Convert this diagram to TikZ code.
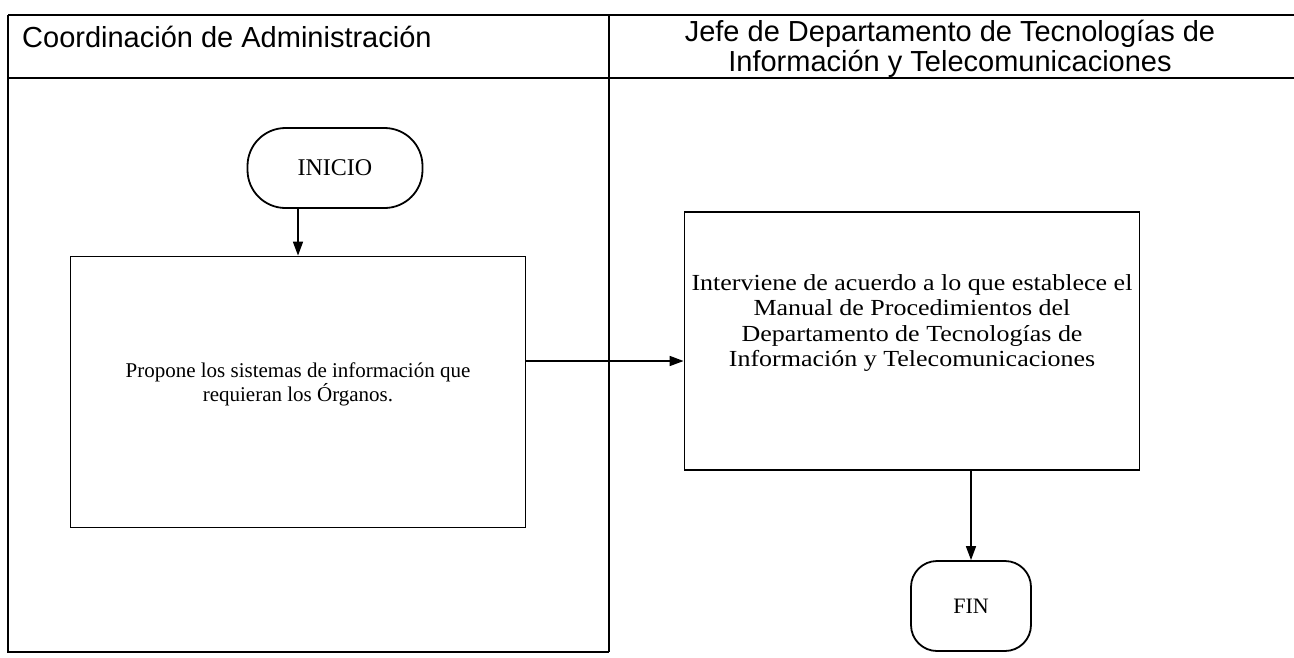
\documentclass[tikz,border=0pt]{standalone}
\usepackage{fontspec}
\setmainfont{Liberation Serif}
\newfontfamily\headfont{Liberation Sans}
\newfontfamily\widefont[FakeStretch=1.13]{Liberation Serif}
\usetikzlibrary{arrows.meta}
\begin{document}
\begin{tikzpicture}[x=1pt, y=-1pt,
  lane/.style={line width=1.3pt},
  proc/.style={draw, line width=1.8pt, minimum width=455pt, align=center, inner sep=0pt},
  term/.style={draw, line width=1.8pt, align=center, inner sep=0pt},
  head/.style={font=\headfont\fontsize{29}{30}\selectfont, inner sep=0pt},
  flecha/.style={line width=1.6pt, -{Triangle[length=14pt, width=10pt]}}
]
\useasboundingbox (0,0) rectangle (1294,657);

% encabezados y carriles
\draw[lane] (8,15) -- (1294,15);
\draw[lane] (8,78) -- (1294,78);
\draw[lane] (8,15) -- (8,652) -- (609,652);
\draw[lane] (609,15) -- (609,652);
\node[head, anchor=west] (hadm) at (22,37) {Coordinación de Administración};
\node[head, align=center, anchor=north] (hjefe) at (950,20) {Jefe de Departamento de Tecnologías de\\Información y Telecomunicaciones};

% nodos
\node[term, minimum width=175pt, minimum height=80pt, rounded corners=38pt,
      font=\fontsize{24}{28}\selectfont] (inicio) at (335,168) {INICIO};
\node[proc, minimum height=271pt] (propone) at (298,392) {};
\node[align=center, font=\fontsize{21}{24}\selectfont] (tpropone) at (298,384)
  {Propone los sistemas de información que\\requieran los Órganos.};
\node[proc, minimum height=258pt] (interv) at (912,341) {};
\node[align=center, font=\widefont\fontsize{23}{25.5}\selectfont] (tinterv) at (912,323)
  {Interviene de acuerdo a lo que establece el\\Manual de Procedimientos del\\Departamento de Tecnologías de\\Información y Telecomunicaciones};
\node[term, minimum width=120pt, minimum height=90pt, rounded corners=26pt,
      font=\fontsize{22}{26}\selectfont] (fin) at (971,606) {FIN};

% conectores
\draw[flecha] (inicio.south -| propone.north) -- (propone.north);
\draw[flecha] ([yshift=31pt]propone.east) -- ([yshift=31pt]propone.east -| interv.west);
\draw[flecha] (fin.north |- interv.south) -- (fin.north);
\end{tikzpicture}
\end{document}
